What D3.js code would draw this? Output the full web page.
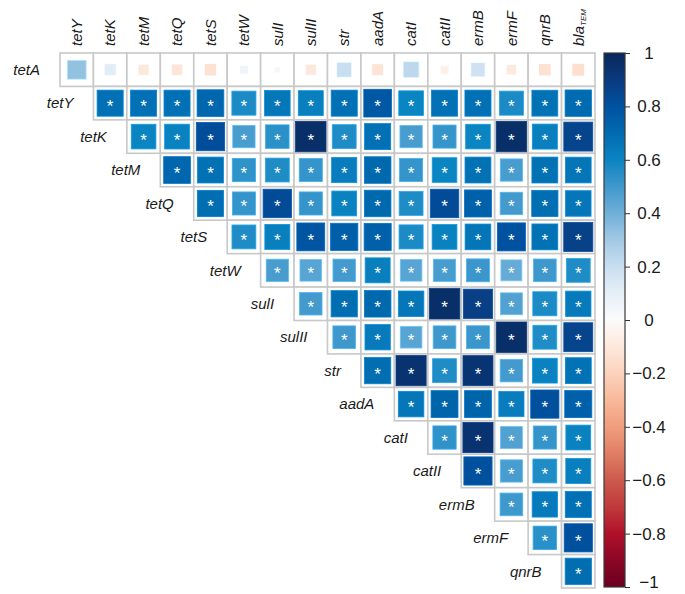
<!DOCTYPE html>
<html>
<head>
<meta charset="utf-8">
<script src="https://cdn.jsdelivr.net/npm/d3@7"></script>
<style>
  body { margin: 0; background: #ffffff; }
  text { font-family: "Liberation Sans", Arial, sans-serif; }
</style>
</head>
<body>
<svg id="chart" width="685" height="594"></svg>
<script>
// Genes on the rows (top to bottom) and columns (left to right)
const rowGenes = ["tetA", "tetY", "tetK", "tetM", "tetQ", "tetS", "tetW", "sulI",
                  "sulII", "str", "aadA", "catI", "catII", "ermB", "ermF", "qnrB"];
const colGenes = ["tetY", "tetK", "tetM", "tetQ", "tetS", "tetW", "sulI", "sulII",
                  "str", "aadA", "catI", "catII", "ermB", "ermF", "qnrB", "blaTEM"];

// Correlation coefficients, one array per row, starting at the diagonal column
const corrTetA  = [0.33, 0.12, -0.10, -0.11, -0.13, 0.06, 0.03, -0.10, 0.20, -0.12, 0.23, -0.06, 0.18, -0.09, -0.13, -0.14];
const corrTetY  = [0.68, 0.68, 0.68, 0.72, 0.57, 0.65, 0.62, 0.68, 0.78, 0.60, 0.68, 0.68, 0.57, 0.67, 0.70];
const corrTetK  = [0.60, 0.61, 0.82, 0.48, 0.54, 0.96, 0.56, 0.68, 0.48, 0.52, 0.60, 0.96, 0.62, 0.86];
const corrTetM  = [0.72, 0.67, 0.53, 0.56, 0.52, 0.63, 0.71, 0.52, 0.60, 0.67, 0.48, 0.67, 0.66];
const corrTetQ  = [0.69, 0.52, 0.83, 0.52, 0.61, 0.71, 0.56, 0.83, 0.74, 0.49, 0.69, 0.65];
const corrTetS  = [0.56, 0.62, 0.79, 0.75, 0.74, 0.57, 0.61, 0.66, 0.80, 0.67, 0.87];
const corrTetW  = [0.48, 0.45, 0.49, 0.62, 0.45, 0.48, 0.51, 0.42, 0.50, 0.56];
const corrSulI  = [0.49, 0.69, 0.71, 0.65, 0.96, 0.88, 0.46, 0.57, 0.64];
const corrSulII = [0.50, 0.64, 0.45, 0.50, 0.51, 0.96, 0.56, 0.86];
const corrStr   = [0.69, 0.94, 0.56, 0.93, 0.49, 0.61, 0.67];
const corrAadA  = [0.65, 0.73, 0.73, 0.63, 0.81, 0.74];
const corrCatI  = [0.53, 0.94, 0.46, 0.52, 0.61];
const corrCatII = [0.81, 0.48, 0.56, 0.62];
const corrErmB  = [0.50, 0.64, 0.68];
const corrErmF  = [0.54, 0.81];
const corrQnrB  = [0.69];

// Rows whose correlations are all significant (marked with *)
const significantRows = [false, true, true, true, true, true, true, true,
                         true, true, true, true, true, true, true, true];

// Colour bar ticks and the diverging palette (value -> colour)
const legendTicks = [1, 0.8, 0.6, 0.4, 0.2, 0, -0.2, -0.4, -0.6, -0.8, -1];
const paletteValues = [-1, -0.9, -0.8, -0.7, -0.6, -0.5, -0.4, -0.3, -0.2, -0.1, 0,
                       0.1, 0.2, 0.3, 0.4, 0.5, 0.6, 0.7, 0.8, 0.9, 1];
const paletteColors = ["#6a001e", "#8c0626", "#b0102a", "#c03a3c", "#cc5a4c", "#e07e64",
                       "#f09d7e", "#f8b99a", "#fcd2bc", "#fde8dc", "#fbfbfb",
                       "#e6eff8", "#c9def0", "#a2c9e4", "#70afd8", "#3f98cc",
                       "#0b84c2", "#006bb0", "#0052a0", "#0a3a7e", "#08275a"];

const corrRows = [corrTetA, corrTetY, corrTetK, corrTetM, corrTetQ, corrTetS, corrTetW, corrSulI,
                  corrSulII, corrStr, corrAadA, corrCatI, corrCatII, corrErmB, corrErmF, corrQnrB];

const svg = d3.select("#chart");

const x = d3.scaleBand().domain(colGenes).range([60, 595]);
const y = d3.scaleBand().domain(rowGenes).range([53, 588]);
const bw = x.bandwidth(), bh = y.bandwidth();

const color = d3.scaleLinear().domain(paletteValues).range(paletteColors)
  .interpolate(d3.interpolateRgb).clamp(true);
const side = d3.scalePow().exponent(0.45).domain([0, 1]).range([0, 31]);

// Flatten into cells of the upper triangle
const cells = [];
rowGenes.forEach((rg, i) => {
  corrRows[i].forEach((v, k) => {
    cells.push({ row: rg, col: colGenes[i + k], value: v, star: significantRows[i] });
  });
});

// Grid cells
const cellG = svg.append("g");
cellG.selectAll("rect.cell").data(cells).join("rect")
  .attr("class", "cell")
  .attr("x", d => x(d.col)).attr("y", d => y(d.row))
  .attr("width", bw).attr("height", bh)
  .attr("fill", "#ffffff").attr("stroke", "#c8c8c8").attr("stroke-width", 1.6);

// Coloured squares, sized by |r|
cellG.selectAll("rect.sq").data(cells).join("rect")
  .attr("class", "sq")
  .attr("x", d => x(d.col) + bw / 2 - side(Math.abs(d.value)) / 2)
  .attr("y", d => y(d.row) + bh / 2 - side(Math.abs(d.value)) / 2)
  .attr("width", d => side(Math.abs(d.value)))
  .attr("height", d => side(Math.abs(d.value)))
  .attr("fill", d => color(d.value))
  .attr("stroke", d => d3.color(color(d.value)).brighter(0.5))
  .attr("stroke-width", 0.8);

// Significance stars
cellG.selectAll("text.star").data(cells.filter(d => d.star)).join("text")
  .attr("class", "star")
  .attr("x", d => x(d.col) + bw / 2)
  .attr("y", d => y(d.row) + bh / 2 + 9)
  .attr("text-anchor", "middle")
  .attr("font-size", 17)
  .attr("fill", "#ffffff")
  .text("*");

// Row labels to the left of each row's first cell
svg.append("g").selectAll("text").data(rowGenes).join("text")
  .attr("x", (d, i) => x(colGenes[i]) - 20)
  .attr("y", d => y(d) + bh / 2)
  .attr("dy", "0.35em")
  .attr("text-anchor", "end")
  .attr("font-size", 15)
  .attr("font-style", "italic")
  .attr("fill", "#1a1a1a")
  .text(d => d);

// Column labels, rotated
const colLab = svg.append("g").selectAll("text").data(colGenes).join("text")
  .attr("transform", d => `translate(${x(d) + bw / 2},46) rotate(-90)`)
  .attr("dy", "0.35em")
  .attr("text-anchor", "start")
  .attr("font-size", 15)
  .attr("font-style", "italic")
  .attr("fill", "#1a1a1a");
colLab.each(function(d) {
  const t = d3.select(this);
  if (d === "blaTEM") {
    t.append("tspan").text("bla");
    t.append("tspan").attr("font-size", 8).attr("dy", "0.35em").text("TEM");
  } else {
    t.text(d);
  }
});

// Colour bar
const barScale = d3.scaleLinear().domain([-1, 1]).range([587, 53]);
const grad = svg.append("defs").append("linearGradient")
  .attr("id", "barGrad").attr("x1", 0).attr("y1", 1).attr("x2", 0).attr("y2", 0);
grad.selectAll("stop").data(d3.range(0, 1.0001, 0.02)).join("stop")
  .attr("offset", d => d)
  .attr("stop-color", d => color(d * 2 - 1));
svg.append("rect")
  .attr("x", 604).attr("y", barScale(1))
  .attr("width", 21).attr("height", barScale(-1) - barScale(1))
  .attr("fill", "url(#barGrad)")
  .attr("stroke", "#3a3a3a").attr("stroke-width", 1.2);

const barAxis = svg.append("g").attr("transform", "translate(625,0)")
  .call(d3.axisRight(barScale).tickValues(legendTicks).tickSize(5).tickFormat(d3.format("")));
barAxis.select(".domain").remove();
barAxis.selectAll(".tick line").attr("stroke", "#333");
barAxis.selectAll(".tick text")
  .attr("x", 24).attr("text-anchor", "middle")
  .attr("font-size", 17).attr("fill", "#1a1a1a")
  .attr("font-family", "Liberation Sans, Arial, sans-serif")
  .attr("dy", d => d === -1 ? "0.05em" : "0.32em");
</script>
</body>
</html>
